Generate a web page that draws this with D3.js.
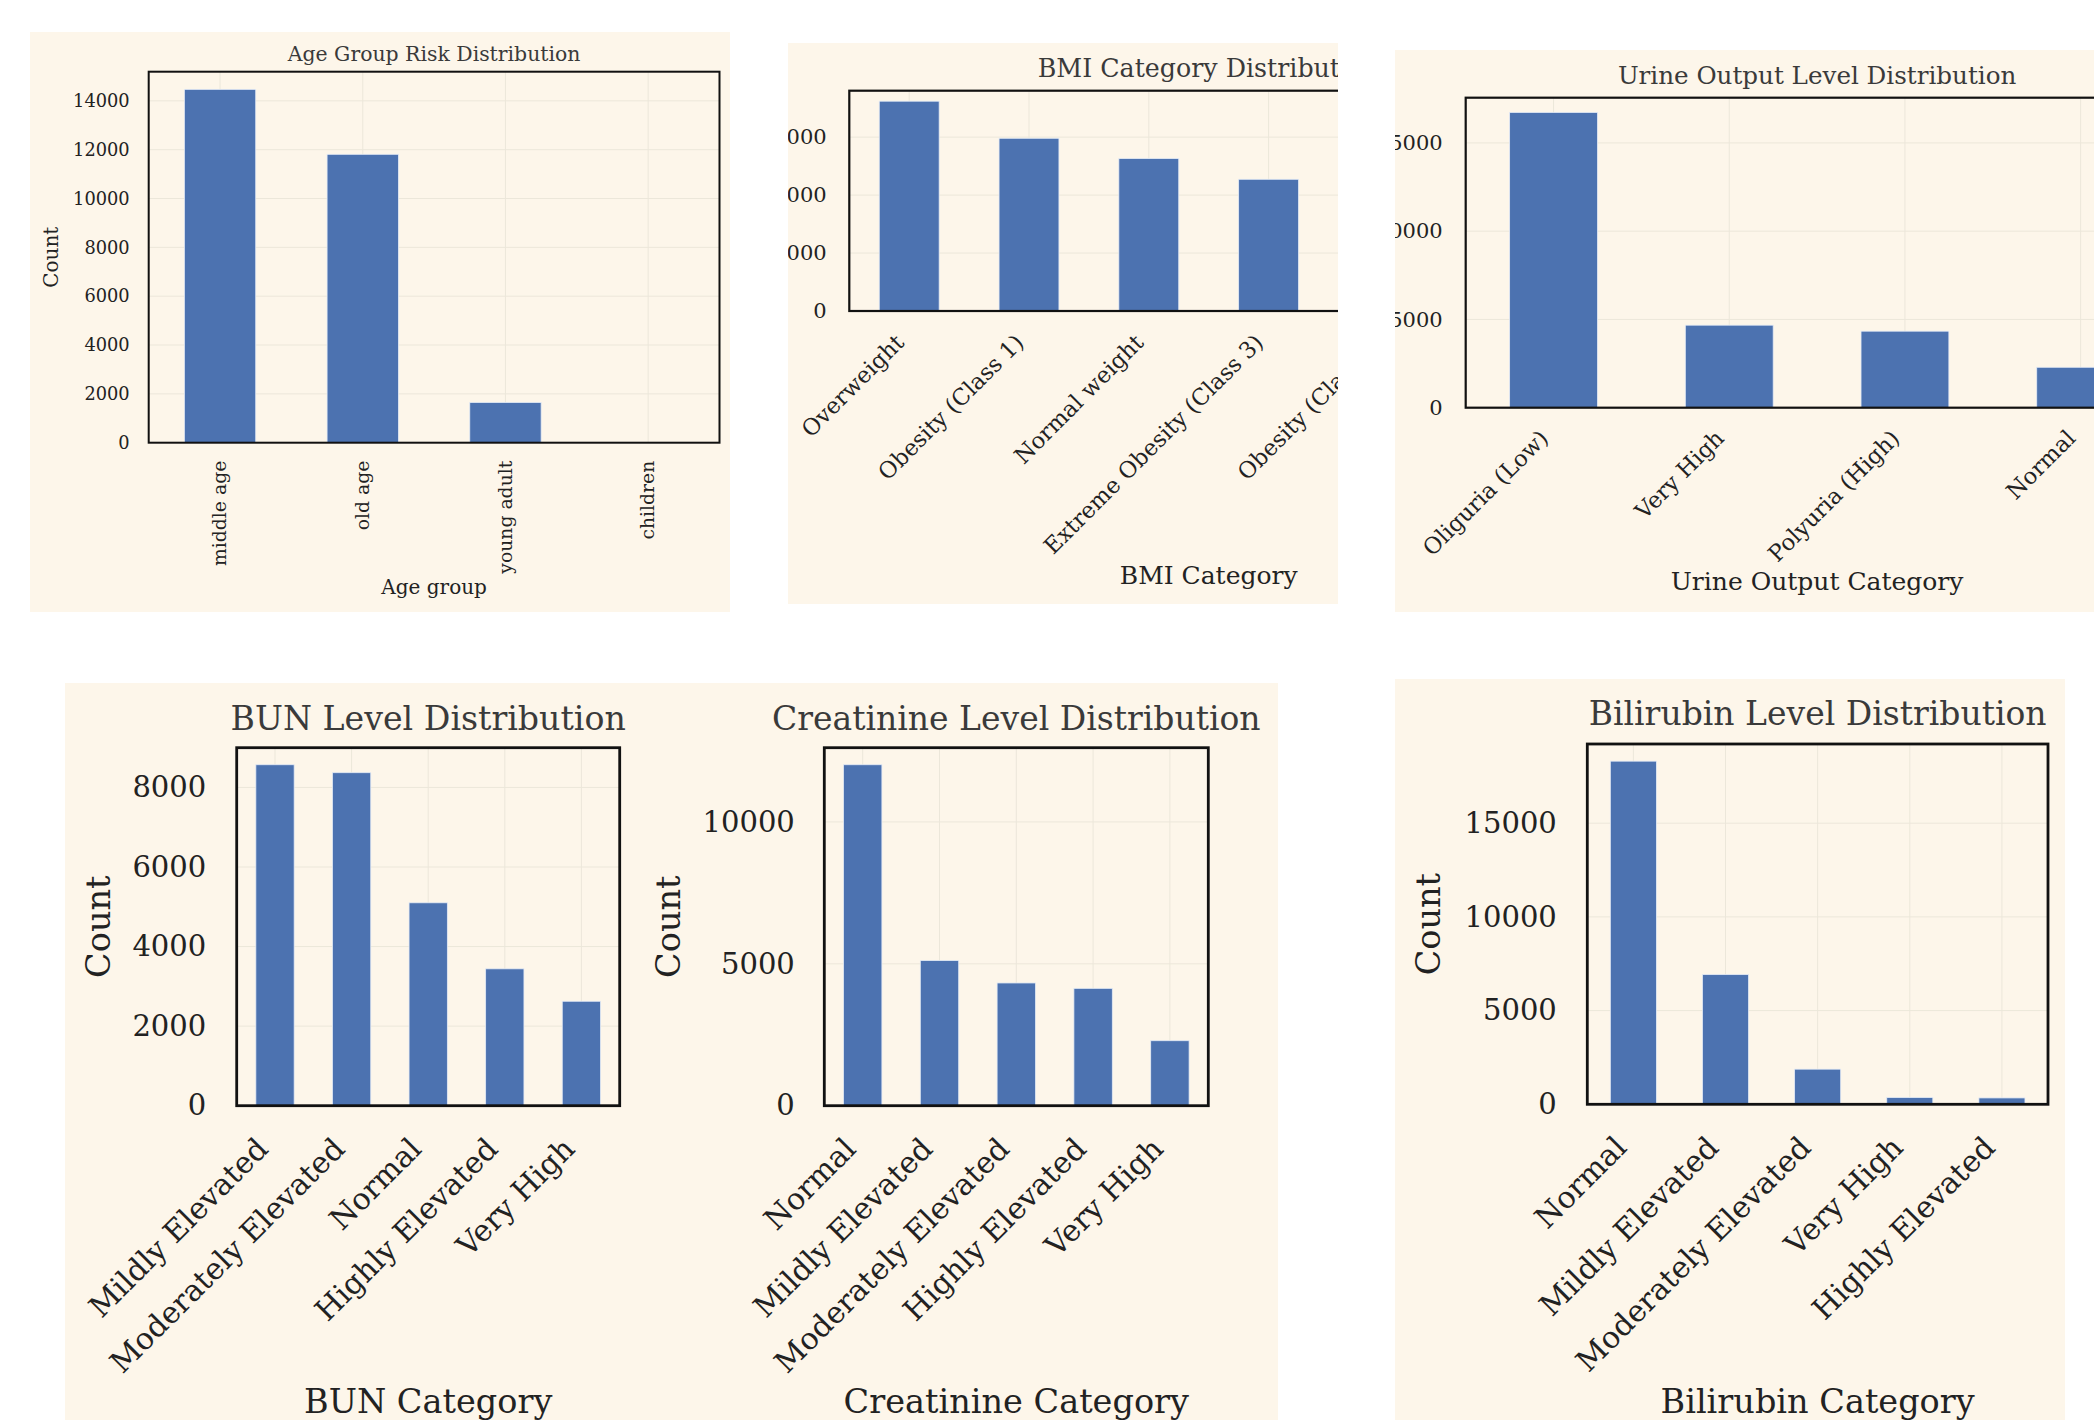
<!DOCTYPE html>
<html>
<head>
<meta charset="utf-8">
<script src="https://cdn.jsdelivr.net/npm/d3@7"></script>
<style>
  html, body { margin: 0; padding: 0; background: #ffffff; }
  svg { display: block; }
  text { font-family: "DejaVu Serif", serif; }
</style>
</head>
<body>
<svg id="chart" width="2094" height="1420"></svg>
<script>
// ---- data: value counts per category ----
const AGE_CATS = ["middle age", "old age", "young adult", "children"];
const AGE_COUNTS = [14470, 11810, 1645, 12];
const AGE_TICKS = [0, 2000, 4000, 6000, 8000, 10000, 12000, 14000];

const BMI_CATS = ["Overweight", "Obesity (Class 1)", "Normal weight", "Extreme Obesity (Class 3)", "Obesity (Class 2)", "Underweight"];
const BMI_COUNTS = [7240, 5960, 5260, 4545, 4300, 600];
const BMI_TICKS = [0, 2000, 4000, 6000];

const URINE_CATS = ["Oliguria (Low)", "Very High", "Polyuria (High)", "Normal"];
const URINE_COUNTS = [16725, 4675, 4335, 2290];
const URINE_TICKS = [0, 5000, 10000, 15000];

const BUN_CATS = ["Mildly Elevated", "Moderately Elevated", "Normal", "Highly Elevated", "Very High"];
const BUN_COUNTS = [8570, 8370, 5100, 3440, 2625];
const BUN_TICKS = [0, 2000, 4000, 6000, 8000];

const CREAT_CATS = ["Normal", "Mildly Elevated", "Moderately Elevated", "Highly Elevated", "Very High"];
const CREAT_COUNTS = [12015, 5115, 4325, 4135, 2290];
const CREAT_TICKS = [0, 5000, 10000];

const BILI_CATS = ["Normal", "Mildly Elevated", "Moderately Elevated", "Very High", "Highly Elevated"];
const BILI_COUNTS = [18310, 6920, 1875, 360, 340];
const BILI_TICKS = [0, 5000, 10000, 15000];

// ---- styling ----
const PANEL_BG = "#fdf6ea";
const BAR_COLOR = "#4c72b0";
const GRID_COLOR = "#ece7da";
const TEXT_COLOR = "#222222";
const TITLE_COLOR = "#3a3a3a";

const svg = d3.select("#chart");
const defs = svg.append("defs");

function panelBackground(id, box) {
  defs.append("clipPath").attr("id", id)
    .append("rect")
    .attr("x", box[0]).attr("y", box[1])
    .attr("width", box[2] - box[0]).attr("height", box[3] - box[1]);
  const g = svg.append("g").attr("clip-path", `url(#${id})`);
  g.append("rect")
    .attr("x", box[0]).attr("y", box[1])
    .attr("width", box[2] - box[0]).attr("height", box[3] - box[1])
    .attr("fill", PANEL_BG);
  return g;
}

function barChart(g, c) {
  const f = c.frame;
  const x = d3.scaleBand().domain(c.cats).range([f.l, f.r])
    .paddingInner(0.5).paddingOuter(0.25);
  const y = d3.scaleLinear().domain([0, d3.max(c.vals) * 1.05]).range([f.b, f.t]);
  const centre = d => x(d) + x.bandwidth() / 2;

  // grid
  const grid = g.append("g").attr("stroke", GRID_COLOR).attr("stroke-width", 1);
  grid.selectAll("line.h").data(c.ticks.filter(t => t > 0)).join("line")
    .attr("x1", f.l).attr("x2", f.r)
    .attr("y1", d => y(d)).attr("y2", d => y(d));
  grid.selectAll("line.v").data(c.cats).join("line")
    .attr("x1", centre).attr("x2", centre)
    .attr("y1", f.t).attr("y2", f.b);

  // bars
  g.append("g").selectAll("rect").data(c.cats).join("rect")
    .attr("x", d => x(d))
    .attr("width", x.bandwidth())
    .attr("y", (d, i) => y(c.vals[i]))
    .attr("height", (d, i) => y(0) - y(c.vals[i]))
    .attr("fill", BAR_COLOR)
    .attr("stroke", "#e4ebf6")
    .attr("stroke-width", 0.8);

  // frame
  g.append("rect")
    .attr("x", f.l).attr("y", f.t)
    .attr("width", f.r - f.l).attr("height", f.b - f.t)
    .attr("fill", "none").attr("stroke", "#111111")
    .attr("stroke-width", c.frameW);

  // y tick labels
  const yAxis = d3.axisLeft(y).tickValues(c.ticks).tickSize(0).tickPadding(c.tickGap)
    .tickFormat(d3.format("d"));
  const ya = g.append("g").attr("transform", `translate(${f.l},0)`).call(yAxis);
  ya.select(".domain").remove();
  ya.selectAll("text")
    .attr("font-family", "DejaVu Serif")
    .attr("font-size", c.fs.tick)
    .attr("fill", TEXT_COLOR);

  // x tick labels
  const fx = c.fs.xtick;
  const xl = g.append("g").selectAll("text").data(c.cats).join("text")
    .attr("font-size", fx)
    .attr("fill", TEXT_COLOR)
    .attr("text-anchor", "end")
    .text(d => d);
  if (c.rot === 90) {
    xl.attr("transform", d => `translate(${centre(d) + 0.33 * fx},${f.b + c.xPad}) rotate(-90)`);
  } else {
    xl.attr("transform", d => `translate(${centre(d) - 0.17 * fx},${f.b + c.xPad}) rotate(-45)`);
  }

  // title and axis labels
  const mid = (f.l + f.r) / 2;
  g.append("text").attr("x", mid).attr("y", c.titleY)
    .attr("text-anchor", "middle").attr("font-size", c.fs.title)
    .attr("fill", TITLE_COLOR).text(c.title);
  g.append("text").attr("x", mid).attr("y", c.xlabelY)
    .attr("text-anchor", "middle").attr("font-size", c.fs.label)
    .attr("fill", TEXT_COLOR).text(c.xlabel);
  g.append("text")
    .attr("transform", `translate(${c.ylabelX},${(f.t + f.b) / 2}) rotate(-90)`)
    .attr("text-anchor", "middle").attr("dy", "0.35em")
    .attr("font-size", c.fs.label)
    .attr("fill", TEXT_COLOR).text("Count");
}

// ---- top row ----
const gAge = panelBackground("clip-age", [30, 32, 730, 612]);
barChart(gAge, {
  cats: AGE_CATS, vals: AGE_COUNTS, ticks: AGE_TICKS,
  frame: { l: 148.7, t: 71.7, r: 719.5, b: 442.7 }, frameW: 2,
  fs: { tick: 17.8, xtick: 18.8, label: 20, title: 20.4 },
  tickGap: 19, rot: 90, xPad: 18,
  title: "Age Group Risk Distribution", titleY: 61,
  xlabel: "Age group", xlabelY: 594, ylabelX: 51
});

const gBmi = panelBackground("clip-bmi", [788, 43, 1338, 604]);
barChart(gBmi, {
  cats: BMI_CATS, vals: BMI_COUNTS, ticks: BMI_TICKS,
  frame: { l: 849.3, t: 90.7, r: 1568.1, b: 311 }, frameW: 2.2,
  fs: { tick: 21, xtick: 22.6, label: 25, title: 25.3 },
  tickGap: 22.6, rot: 45, xPad: 33,
  title: "BMI Category Distribution", titleY: 76.5,
  xlabel: "BMI Category", xlabelY: 584, ylabelX: 770
});

const gUrine = panelBackground("clip-urine", [1395, 50, 2094, 612]);
barChart(gUrine, {
  cats: URINE_CATS, vals: URINE_COUNTS, ticks: URINE_TICKS,
  frame: { l: 1465.7, t: 97.7, r: 2168.5, b: 407.7 }, frameW: 2.2,
  fs: { tick: 21, xtick: 22.6, label: 25, title: 24.6 },
  tickGap: 23, rot: 45, xPad: 32,
  title: "Urine Output Level Distribution", titleY: 84.3,
  xlabel: "Urine Output Category", xlabelY: 590, ylabelX: 1370
});

// ---- bottom row ----
const gKidney = panelBackground("clip-kidney", [65, 683, 1278, 1420]);
barChart(gKidney, {
  cats: BUN_CATS, vals: BUN_COUNTS, ticks: BUN_TICKS,
  frame: { l: 236.7, t: 747.7, r: 619.7, b: 1105.7 }, frameW: 2.8,
  fs: { tick: 29, xtick: 30, label: 33.5, title: 33.2 },
  tickGap: 30.5, rot: 45, xPad: 45,
  title: "BUN Level Distribution", titleY: 730,
  xlabel: "BUN Category", xlabelY: 1413, ylabelX: 98.3
});
barChart(gKidney, {
  cats: CREAT_CATS, vals: CREAT_COUNTS, ticks: CREAT_TICKS,
  frame: { l: 824.3, t: 747.7, r: 1208.3, b: 1105.7 }, frameW: 2.8,
  fs: { tick: 29, xtick: 30, label: 33.5, title: 33 },
  tickGap: 29.5, rot: 45, xPad: 45,
  title: "Creatinine Level Distribution", titleY: 730,
  xlabel: "Creatinine Category", xlabelY: 1413, ylabelX: 668
});

const gBili = panelBackground("clip-bili", [1395, 679, 2065, 1420]);
barChart(gBili, {
  cats: BILI_CATS, vals: BILI_COUNTS, ticks: BILI_TICKS,
  frame: { l: 1587.3, t: 744, r: 2048, b: 1104.3 }, frameW: 2.8,
  fs: { tick: 29, xtick: 30, label: 33.5, title: 33 },
  tickGap: 30.5, rot: 45, xPad: 45,
  title: "Bilirubin Level Distribution", titleY: 725,
  xlabel: "Bilirubin Category", xlabelY: 1413, ylabelX: 1428
});
</script>
</body>
</html>
